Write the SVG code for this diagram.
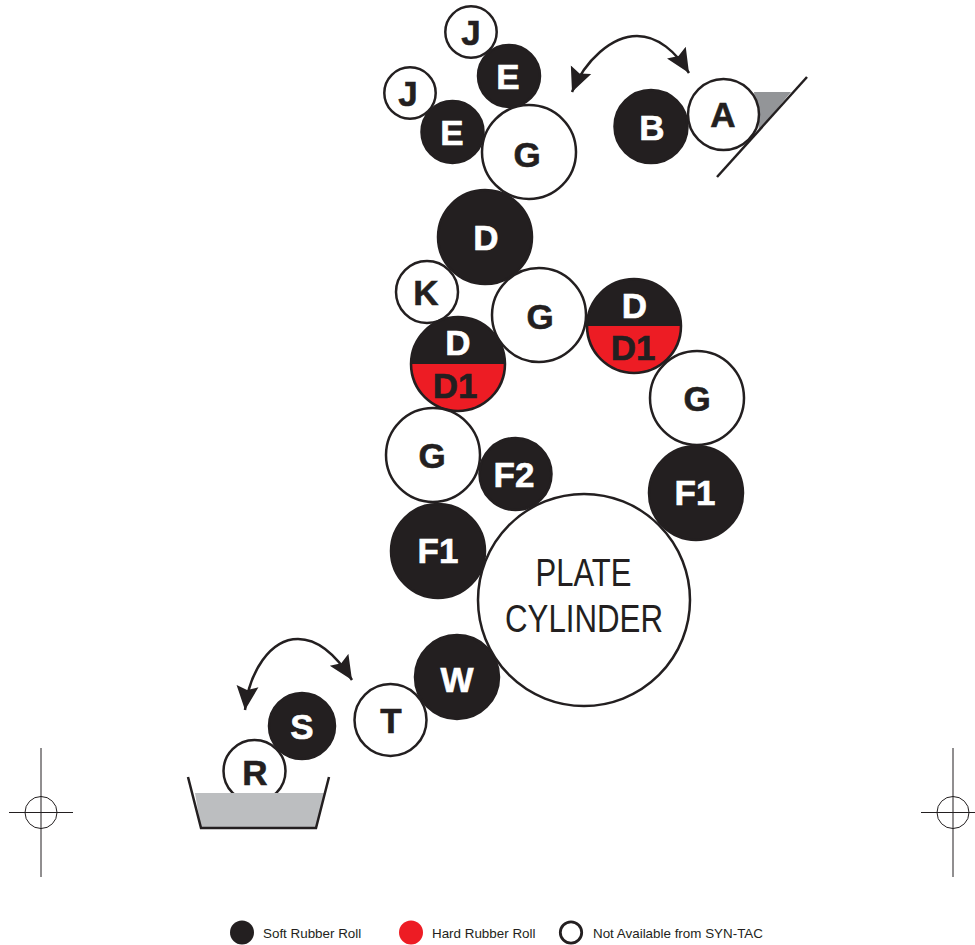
<svg xmlns="http://www.w3.org/2000/svg" width="975" height="945" viewBox="0 0 975 945">
<style>
text{font-family:"Liberation Sans",Arial,sans-serif;text-anchor:middle}
.l{font-weight:700;font-size:35px;stroke-width:.6}
.k{fill:#231f20}.w{fill:#fff}
.l.k{stroke:#231f20}.l.w{stroke:#fff}
.s{fill:#231f20;stroke:#231f20;stroke-width:2.5}
.o{fill:#fff;stroke:#231f20;stroke-width:2.5}
.ln{fill:none;stroke:#231f20;stroke-width:2.5}
.t{fill:none;stroke:#231f20;stroke-width:1}
.leg{font-size:13.4px;fill:#231f20;text-anchor:start}
</style>
<defs>
<marker id="ah" markerUnits="userSpaceOnUse" markerWidth="25" markerHeight="24" refX="24" refY="12" orient="auto-start-reverse" viewBox="0 0 25 24"><path d="M0 1L24 12L0 23L4 12Z" fill="#231f20"/></marker>
<clipPath id="c1"><rect x="400" y="364" width="120" height="60"/></clipPath>
<clipPath id="c2"><rect x="580" y="326" width="110" height="60"/></clipPath>
</defs>
<g id="connectors">
<path class="ln" d="M572 92C585 60 612 36 637 36C658 36 676 52 689 73" marker-start="url(#ah)" marker-end="url(#ah)"/>
<path class="ln" d="M245 710C249 672 270 639 298 639C320 639 338 658 352 680" marker-start="url(#ah)" marker-end="url(#ah)"/>
</g>
<g id="blade"><path d="M754 92H791L759 131Z" fill="#939598"/><path class="ln" d="M807 77L717 177"/></g>
<g id="node-B"><circle class="s" cx="651" cy="126.500" r="36.500"/><text class="l w" x="652" y="140">B</text></g>
<g id="node-A"><circle class="o" cx="723.500" cy="114.500" r="35.500"/><text class="l k" x="723" y="127">A</text></g>
<g id="node-J1"><circle class="o" cx="471" cy="32" r="25.700"/><text class="l k" x="471" y="45">J</text></g>
<g id="node-E1"><circle class="s" cx="509" cy="76" r="31"/><text class="l w" x="508" y="89">E</text></g>
<g id="node-J2"><circle class="o" cx="410" cy="93" r="25.700"/><text class="l k" x="408" y="106">J</text></g>
<g id="node-E2"><circle class="s" cx="452.500" cy="132" r="31"/><text class="l w" x="452" y="145">E</text></g>
<g id="node-G1"><circle class="o" cx="529" cy="152" r="47"/><text class="l k" x="527" y="167">G</text></g>
<g id="node-D"><circle class="s" cx="485" cy="237" r="47"/><text class="l w" x="486" y="250">D</text></g>
<g id="node-K"><circle class="o" cx="427" cy="292" r="31"/><text class="l k" x="426" y="305">K</text></g>
<g id="node-G2"><circle class="o" cx="539" cy="315" r="47"/><text class="l k" x="540" y="329">G</text></g>
<g id="node-D1a"><circle class="s" cx="634" cy="326" r="47"/><circle cx="634" cy="326" r="45.700" fill="#ed1c24" clip-path="url(#c2)"/><text class="l w" x="634.500" y="318">D</text><text class="l k" x="633" y="360">D1</text></g>
<g id="node-D1b"><circle class="s" cx="458" cy="364" r="47"/><circle cx="458" cy="364" r="45.700" fill="#ed1c24" clip-path="url(#c1)"/><text class="l w" x="458" y="355">D</text><text class="l k" x="455" y="398">D1</text></g>
<g id="node-G3"><circle class="o" cx="697" cy="398" r="47"/><text class="l k" x="697" y="411">G</text></g>
<g id="node-G4"><circle class="o" cx="433" cy="455" r="47"/><text class="l k" x="432" y="468">G</text></g>
<g id="node-F2"><circle class="s" cx="515.500" cy="474" r="36"/><text class="l w" x="514" y="487">F2</text></g>
<g id="node-F1a"><circle class="s" cx="696" cy="493" r="47"/><text class="l w" x="695" y="505">F1</text></g>
<g id="node-F1b"><circle class="s" cx="438" cy="551" r="47"/><text class="l w" x="438" y="563">F1</text></g>
<g id="node-W"><circle class="s" cx="457" cy="677" r="42"/><text class="l w" x="457" y="692">W</text></g>
<g id="node-plate"><circle class="o" cx="584" cy="600" r="106"/><text x="583.500" y="586" font-size="38" class="k" textLength="96" lengthAdjust="spacingAndGlyphs">PLATE</text><text x="584" y="632" font-size="38" class="k" textLength="158" lengthAdjust="spacingAndGlyphs">CYLINDER</text></g>
<g id="node-T"><circle class="o" cx="390.500" cy="720" r="36"/><text class="l k" x="391" y="733">T</text></g>
<g id="node-S"><circle class="s" cx="302" cy="726" r="33"/><text class="l w" x="302" y="739">S</text></g>
<g id="node-R"><circle class="o" cx="254.500" cy="771" r="31"/><text class="l k" x="255" y="785">R</text></g>
<g id="tray"><path d="M195 793H325L316 828H201Z" fill="#bcbec0"/><path class="ln" d="M188 777L201 828H316L329 777"/></g>
<g id="regmark-left"><circle class="t" cx="41" cy="812.500" r="16"/><path class="t" d="M41 748V877M9 812.500H73"/></g>
<g id="regmark-right"><circle class="t" cx="953" cy="812.500" r="16"/><path class="t" d="M953 748V877M921 812.500H975"/></g>
<g id="legend">
<g id="legend-soft"><circle class="k" cx="242" cy="932.500" r="12"/><text class="leg" x="263" y="938">Soft Rubber Roll</text></g>
<g id="legend-hard"><circle cx="411" cy="932.500" r="12" fill="#ed1c24"/><text class="leg" x="432" y="938">Hard Rubber Roll</text></g>
<g id="legend-na"><circle cx="571" cy="932.500" r="10.700" fill="#fff" stroke="#231f20" stroke-width="2.800"/><text class="leg" x="593" y="938">Not Available from SYN-TAC</text></g>
</g>
</svg>
